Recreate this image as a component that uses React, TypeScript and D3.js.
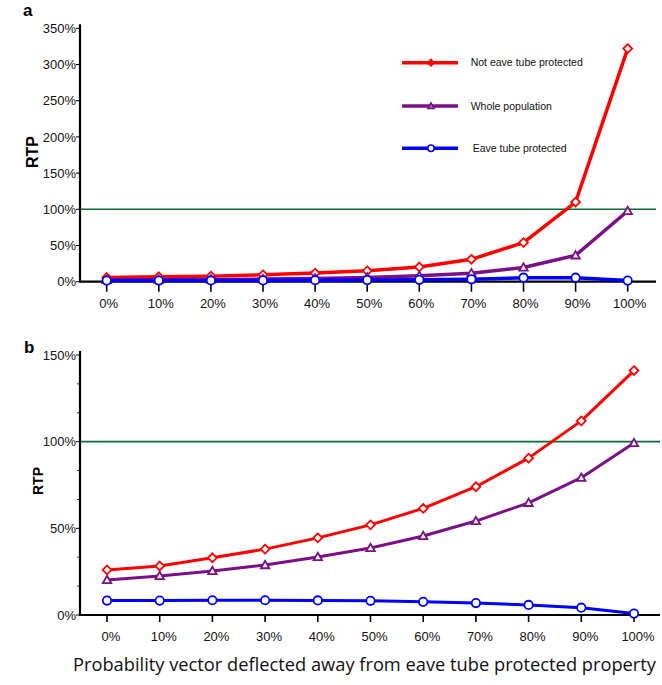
import React from "react";
import * as d3 from "d3";

const categories = ["0%", "10%", "20%", "30%", "40%", "50%", "60%", "70%", "80%", "90%", "100%"];

const aNotProtected = [5.9, 6.8, 7.7, 9.5, 11.9, 15, 20.4, 30.9, 54, 110, 322];
const aWhole = [2.3, 2.7, 3.1, 3.6, 4.5, 5.9, 8.2, 11.8, 19.6, 36.4, 97.7];
const aProtected = [1.5, 1.6, 1.7, 1.8, 2, 2.2, 2.6, 3.3, 5.5, 5.5, 1.5];

const bNotProtected = [26, 28.3, 33, 38, 44.5, 52, 61.5, 74, 90.5, 112, 141];
const bWhole = [20.2, 22.5, 25.4, 28.8, 33.5, 38.7, 45.6, 54.2, 64.7, 79.2, 99.2];
const bProtected = [8.3, 8.3, 8.5, 8.5, 8.4, 8.2, 7.6, 6.9, 5.8, 4.2, 0.8];

const aYTicks = [0, 50, 100, 150, 200, 250, 300, 350];
const bYTicks = [0, 50, 100, 150];
const bYMinor = [16.67, 33.33, 66.67, 83.33, 116.67, 133.33];

const legendLabels = ["Not eave tube protected", "Whole population", "Eave tube protected"];

const RED = "#ff0000";
const PURPLE = "#7b0f86";
const BLUE = "#0000ff";
const GREEN = "#0b6a33";
const FONT = "'Liberation Sans', Arial, sans-serif";

type Marker = "diamond" | "triangle" | "circle";

function MarkerShape({ kind, x, y, color, size, fill, sw }: { kind: Marker; x: number; y: number; color: string; size: number; fill: string; sw: number }) {
  if (kind === "circle") {
    return <circle cx={x} cy={y} r={size} fill={fill} stroke={color} strokeWidth={sw} />;
  }
  if (kind === "diamond") {
    const s = size * 1.05;
    return <path d={`M${x},${y - s}L${x + s},${y}L${x},${y + s}L${x - s},${y}Z`} fill={fill} stroke={color} strokeWidth={sw} />;
  }
  const s = size;
  return <path d={`M${x},${y - s}L${x + s},${y + s * 0.75}L${x - s},${y + s * 0.75}Z`} fill={fill} stroke={color} strokeWidth={sw} />;
}

function Panel({
  series, yMax, yTicks, minor, xRange, yRange, axisRight, tickLen, lineW, labelDx, labelBaseline, axisWidth,
}: {
  series: { values: number[]; color: string; marker: Marker }[];
  yMax: number; yTicks: number[]; minor: number[]; xRange: [number, number]; yRange: [number, number];
  axisRight: number; tickLen: number; lineW: number; labelDx: number; labelBaseline: number; axisWidth: number;
}) {
  const x = d3.scalePoint<string>().domain(categories).range(xRange);
  const y = d3.scaleLinear().domain([0, yMax]).range(yRange);
  const line = d3.line<number>().x((_, i) => x(categories[i])!).y((d) => y(d));
  const axisX = 80;
  return (
    <g>
      <line x1={axisX} x2={axisRight} y1={y(100)} y2={y(100)} stroke={GREEN} strokeWidth={1.6} />
      <line x1={axisX} x2={axisRight} y1={y(0)} y2={y(0)} stroke="#000" strokeWidth={axisWidth} />
      {categories.map((c) => (
        <g key={c}>
          <line x1={x(c)} x2={x(c)} y1={y(0)} y2={y(0) + tickLen} stroke="#000" strokeWidth={1.6} />
          <text x={x(c)! + labelDx} y={labelBaseline} textAnchor="middle" fontSize={13} fontFamily={FONT} fill="#111">{c}</text>
        </g>
      ))}
      <line x1={axisX} x2={axisX} y1={yRange[1] - 4} y2={y(0) + axisWidth / 2} stroke="#000" strokeWidth={axisWidth} />
      {yTicks.map((t) => (
        <g key={t}>
          <line x1={axisX - 4} x2={axisX} y1={y(t)} y2={y(t)} stroke="#000" strokeWidth={1} />
          <text x={axisX - 4} y={y(t)} dy="0.36em" textAnchor="end" fontSize={13} fontFamily={FONT} fill="#111">{t}%</text>
        </g>
      ))}
      {minor.map((t) => (
        <line key={t} x1={axisX - 3} x2={axisX} y1={y(t)} y2={y(t)} stroke="#000" strokeWidth={0.8} />
      ))}
      {series.map((s, si) => (
        <g key={si}>
          <path d={line(s.values)!} fill="none" stroke={s.color} strokeWidth={lineW} strokeLinejoin="round" />
          {s.values.map((v, i) => (
            <MarkerShape key={i} kind={s.marker} x={x(categories[i])!} y={y(v)} color={s.color} size={4.2} fill="#fff" sw={1.8} />
          ))}
        </g>
      ))}
    </g>
  );
}

export default function App() {
  const legendColors = [RED, PURPLE, BLUE];
  const legendMarkers: Marker[] = ["diamond", "triangle", "circle"];
  const legendY = [62.7, 106, 148.3];
  const legendTextX = [470.7, 470.7, 472.7];
  return (
    <svg width={662} height={685} style={{ display: "block", position: "absolute", left: 0, top: 0 }}>
      <rect x={0} y={0} width={662} height={685} fill="#fff" />
      <text x={23} y={16} fontSize={17} fontWeight="bold" fontFamily={FONT}>a</text>
      <text x={24} y={353} fontSize={17} fontWeight="bold" fontFamily={FONT}>b</text>
      <text transform="translate(37.5,152) rotate(-90)" textAnchor="middle" fontSize={16} fontWeight="bold" fontFamily={FONT}>RTP</text>
      <text transform="translate(42.5,481) rotate(-90)" textAnchor="middle" fontSize={14} fontWeight="bold" fontFamily={FONT}>RTP</text>

      <Panel
        series={[
          { values: aNotProtected, color: RED, marker: "diamond" },
          { values: aWhole, color: PURPLE, marker: "triangle" },
          { values: aProtected, color: BLUE, marker: "circle" },
        ]}
        yMax={350} yTicks={aYTicks} minor={[]} xRange={[106.7, 627.7]} yRange={[281.7, 28.3]}
        axisRight={656} tickLen={10} lineW={3.5} labelDx={2} labelBaseline={308} axisWidth={2.2}
      />
      <Panel
        series={[
          { values: bNotProtected, color: RED, marker: "diamond" },
          { values: bWhole, color: PURPLE, marker: "triangle" },
          { values: bProtected, color: BLUE, marker: "circle" },
        ]}
        yMax={150} yTicks={bYTicks} minor={bYMinor} xRange={[107, 634]} yRange={[615, 355]}
        axisRight={660} tickLen={7} lineW={3} labelDx={4} labelBaseline={641} axisWidth={2.2}
      />

      {legendLabels.map((l, i) => (
        <g key={l}>
          <line x1={402} x2={458} y1={legendY[i]} y2={legendY[i]} stroke={legendColors[i]} strokeWidth={3.5} />
          <MarkerShape kind={legendMarkers[i]} x={431} y={legendY[i]} color={legendColors[i]} size={3.2} fill={i === 0 ? RED : i === 1 ? "#a060a8" : "#fff"} sw={1.5} />
          <text x={legendTextX[i]} y={legendY[i]} dy="0.35em" fontSize={10.5} fontFamily={FONT} fill="#111">{l}</text>
        </g>
      ))}

      <text x={73} y={671} fontSize={18.2} fontFamily="'Open Sans', 'Noto Sans', sans-serif" textLength={583} lengthAdjust="spacingAndGlyphs" fill="#111">
        Probability vector deflected away from eave tube protected property
      </text>
    </svg>
  );
}
